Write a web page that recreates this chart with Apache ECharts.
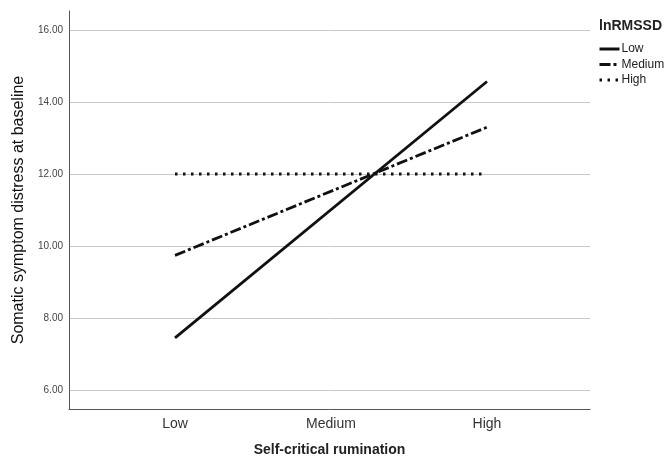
<!DOCTYPE html>
<html>
<head>
<meta charset="utf-8">
<script src="https://cdn.jsdelivr.net/npm/echarts@6/dist/echarts.min.js"></script>
<style>html,body{margin:0;padding:0;background:#fff;}#c{width:667px;height:464px;}</style>
</head>
<body>
<div id="c"></div>
<script>
const categories = ['Low', 'Medium', 'High'];
const xPositions = [1, 2, 3];
const lowSeries = [7.45, 14.57];
const mediumSeries = [9.74, 13.3];
const highSeries = [12.0, 12.0];
const seriesEnds = [1, 3];
const yTicks = [6, 8, 10, 12, 14, 16];
const seriesNames = ['Low', 'Medium', 'High'];

const chart = echarts.init(document.getElementById('c'), null, {renderer: 'canvas'});
const font = 'Liberation Sans, Arial, sans-serif';
function pts(vals) { return vals.map((v, i) => [seriesEnds[i], v]); }
const styles = [
  {type: 'solid'},
  {type: [11, 3, 3, 3]},
  {type: [2.5, 5.5]}
];
const dataSets = [lowSeries, mediumSeries, highSeries];
chart.setOption({
  animation: false,
  title: {
    text: 'lnRMSSD', left: 594, top: 14,
    textStyle: {fontFamily: font, fontSize: 14, fontWeight: 'bold', color: '#222'}
  },
  legend: {
    orient: 'vertical', left: 593, top: 38,
    itemWidth: 20, itemHeight: 12, itemGap: 3.5,
    itemStyle: {opacity: 0},
    lineStyle: {width: 3},
    textStyle: {fontFamily: font, fontSize: 12, color: '#222', padding: [0, 0, 0, -3]},
    data: seriesNames
  },
  grid: {left: 69, right: 77, top: 11, bottom: 55},
  xAxis: {
    type: 'value', min: 1 - 106 / 156, max: 3 + 103 / 156,
    name: 'Self-critical rumination', nameLocation: 'middle', nameGap: 34,
    nameTextStyle: {fontFamily: font, fontSize: 14, fontWeight: 'bold', color: '#222'},
    axisLine: {lineStyle: {color: '#555', width: 1}},
    axisTick: {show: false, customValues: xPositions},
    splitLine: {show: false},
    axisLabel: {customValues: xPositions, formatter: v => categories[Math.round(v) - 1] || '',
      fontFamily: font, fontSize: 14, color: '#333', margin: 8}
  },
  yAxis: {
    type: 'value', min: 6 - 19 / 36, max: 16 + 19 / 36,
    name: 'Somatic symptom distress at baseline', nameLocation: 'middle', nameGap: 42,
    nameTextStyle: {fontFamily: font, fontSize: 16, color: '#111'},
    axisLine: {show: true, lineStyle: {color: '#555', width: 1}},
    axisTick: {show: false, customValues: yTicks},
    splitLine: {show: true, lineStyle: {color: '#c8c8c8', width: 1}},
    axisLabel: {customValues: yTicks, formatter: v => v.toFixed(2),
      fontFamily: font, fontSize: 10, color: '#444', margin: 6}
  },
  series: dataSets.map((d, i) => ({
    name: seriesNames[i], type: 'line', data: pts(d), symbol: 'none',
    lineStyle: {color: '#111', width: 2.8, type: styles[i].type},
    itemStyle: {color: '#111'}
  }))
});
</script>
</body>
</html>
